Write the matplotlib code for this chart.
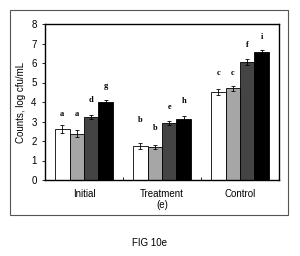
import matplotlib
matplotlib.use('Agg')
import matplotlib.pyplot as plt
import numpy as np
from matplotlib.patches import Rectangle

# data
groups = ['Initial', 'Treatment', 'Control']
s1 = [2.62, 1.76, 4.52]      # white
s2 = [2.36, 1.67, 4.70]      # light speckled
s3 = [3.22, 2.92, 6.03]      # dark speckled
s4 = [3.98, 3.12, 6.57]      # black
e1 = [0.20, 0.15, 0.15]
e2 = [0.18, 0.10, 0.12]
e3 = [0.10, 0.10, 0.15]
e4 = [0.10, 0.15, 0.12]
letters = [['a', 'a', 'd', 'g'], ['b', 'b', 'e', 'h'], ['c', 'c', 'f', 'i']]
letter_y = [[3.4, 3.4, 4.1, 4.8], [3.1, 2.65, 3.75, 4.05], [5.5, 5.5, 6.9, 7.35]]

series = [s1, s2, s3, s4]
errs = [e1, e2, e3, e4]
colors = ['white', '#a6a6a6', '#444444', 'black']

plt.rcParams['font.family'] = ['Liberation Sans', 'DejaVu Sans']
plt.rcParams['hatch.linewidth'] = 0.4

fig = plt.figure(figsize=(3.0, 2.56), dpi=100)
ax = fig.add_axes([45/300, 1-180/256, 234/300, 156/256])

# outer frame around the plot
fig.patches.append(Rectangle((10/300, 1-215/256), 278/300, 205/256,
                             transform=fig.transFigure, fill=False,
                             edgecolor='#555555', linewidth=0.8))

x = np.arange(3) + 0.5
w = 0.185
for i, (vals, er, col) in enumerate(zip(series, errs, colors)):
    pos = x + (i - 1.5) * w
    ax.bar(pos, vals, width=w, color=col, edgecolor='black', linewidth=0.6,
           yerr=er, capsize=1.5, error_kw=dict(elinewidth=0.6, capthick=0.6, ecolor='black'))
    for j in range(3):
        ax.text(pos[j], letter_y[j][i], letters[j][i], ha='center', va='center',
                fontsize=6, family='Liberation Serif', fontweight='bold')

ax.set_xlim(0, 3)
ax.set_ylim(0, 8)
ax.set_yticks(range(9))
ax.set_xticks([1, 2])
ax.set_xticklabels([])
ax.tick_params(axis='x', direction='in', length=2, width=0.6)
ax.tick_params(axis='y', direction='out', length=2, width=0.6, labelsize=7, pad=4)
for sp in ax.spines.values():
    sp.set_linewidth(1.0)

for j, g in enumerate(groups):
    ax.text(x[j], -0.7, g, ha='center', va='center', fontsize=7)
ax.text(x[1], -1.3, '(e)', ha='center', va='center', fontsize=7)

ax.set_ylabel('Counts, log cfu/mL', fontsize=7, labelpad=4)

fig.text(150/300, 1-243/256, 'FIG 10e', ha='center', va='center', fontsize=7)

fig.savefig('out.png', dpi=100)
